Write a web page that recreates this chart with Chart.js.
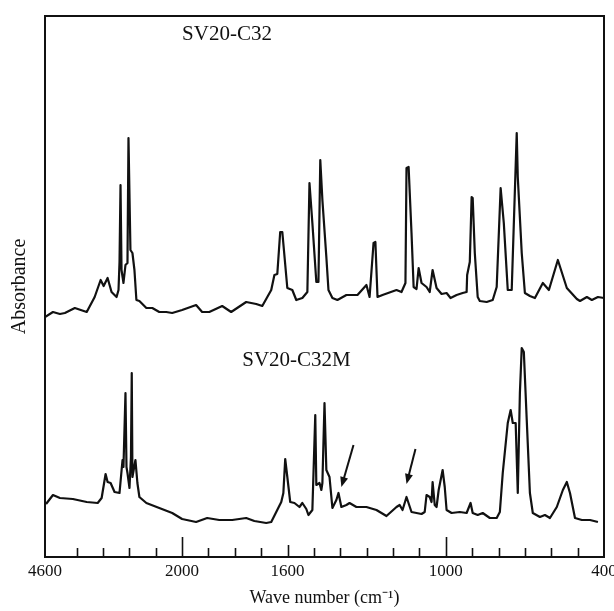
<!DOCTYPE html>
<html>
<head>
<meta charset="utf-8">
<script src="https://cdn.jsdelivr.net/npm/chart.js@4.4.0/dist/chart.umd.min.js"></script>
<style>
  html, body { margin: 0; padding: 0; background: #fff; }
</style>
</head>
<body>
<canvas id="chart" width="614" height="611"></canvas>
<script>
// wave numbers (cm-1) and absorbance (arbitrary units)
const upperWn = [4600, 4449, 4317, 4223, 4034, 3809, 3658, 3545, 3488, 3413, 3338, 3243, 3206, 3187, 3168, 3149, 3112, 3074, 3036, 3017,
  2980, 2942, 2904, 2867, 2810, 2678, 2565, 2433, 2301, 2188, 2000, 1947, 1924, 1897, 1848, 1814, 1757, 1719, 1696, 1662,
  1650, 1639, 1628, 1620, 1601, 1582, 1567, 1544, 1525, 1517, 1506, 1491, 1483, 1476, 1468, 1453, 1445, 1430, 1411, 1377,
  1335, 1301, 1289, 1274, 1267, 1259, 1240, 1187, 1168, 1153, 1149, 1141, 1130, 1122, 1111, 1103, 1092, 1073, 1061, 1050,
  1035, 1016, 997, 982, 959, 936, 921, 919, 909, 902, 898, 890, 879, 871, 845, 822, 807, 792, 780, 765,
  750, 731, 727, 712, 700, 681, 662, 632, 609, 575, 541, 503, 491, 465, 446, 423, 400];
const upperAbs = [240, 245, 243, 244, 249, 245, 260, 277, 271, 279, 265, 260, 267, 295, 372, 287, 274, 292, 294, 419,
  307, 304, 287, 257, 256, 249, 249, 245, 245, 244, 247, 252, 245, 245, 251, 245, 255, 253, 251, 267,
  282, 283, 325, 325, 269, 267, 257, 259, 265, 374, 334, 275, 275, 397, 357, 300, 267, 259, 257, 262,
  262, 272, 260, 314, 315, 260, 262, 267, 265, 274, 389, 390, 324, 270, 268, 289, 274, 270, 265, 287,
  269, 263, 264, 259, 262, 264, 265, 282, 295, 360, 359, 304, 260, 256, 255, 257, 270, 369, 334, 267,
  267, 424, 380, 304, 264, 261, 259, 274, 267, 297, 269, 258, 256, 260, 257, 260, 259];

const lowerWn = [4580, 4449, 4317, 4072, 3809, 3601, 3526, 3451, 3413, 3356, 3281, 3187, 3130, 3112, 3074, 3055, 3036, 2998, 2970, 2955,
  2942, 2885, 2848, 2810, 2678, 2433, 2188, 2000, 1947, 1905, 1859, 1810, 1757, 1726, 1681, 1662, 1643, 1624, 1616, 1609,
  1601, 1590, 1574, 1555, 1544, 1529, 1521, 1506, 1495, 1491, 1479, 1472, 1468, 1460, 1453, 1441, 1430, 1415, 1407, 1396,
  1377, 1365, 1339, 1301, 1263, 1225, 1187, 1175, 1164, 1149, 1130, 1092, 1080, 1073, 1061, 1054, 1050, 1042, 1035, 1027,
  1012, 1004, 997, 978, 947, 921, 906, 898, 879, 860, 833, 807, 795, 784, 765, 754, 746, 735, 727, 719,
  712, 704, 693, 681, 670, 643, 624, 605, 579, 556, 541, 529, 510, 484, 453, 423];
const lowerAbs = [53, 62, 59, 58, 55, 54, 59, 83, 75, 74, 65, 64, 97, 90, 164, 90, 84, 69, 100, 184,
  80, 97, 74, 60, 54, 49, 44, 38, 35, 39, 37, 37, 39, 36, 34, 35, 45, 55, 64, 98,
  80, 55, 54, 50, 54, 48, 42, 47, 142, 72, 74, 67, 74, 154, 87, 80, 49, 57, 64, 50,
  52, 54, 50, 50, 47, 41, 50, 52, 47, 60, 45, 43, 45, 62, 60, 55, 75, 52, 50, 67,
  87, 70, 47, 44, 45, 44, 54, 44, 42, 44, 39, 39, 45, 84, 134, 147, 134, 134, 64, 164,
  209, 205, 137, 64, 44, 40, 42, 39, 50, 67, 75, 64, 39, 37, 37, 35];

const tickLabels = [4600, 2000, 1600, 1000, 400];
const minorTicks = [4000, 3500, 3000, 2500, 1900, 1800, 1700, 1500, 1400, 1300, 1200, 1100, 900, 800, 700, 600, 500];
const majorTicks = [2000, 1000];
const midTicks = [1600];

const sampleNames = ['SV20-C32', 'SV20-C32M'];

const X_MIN = 400, X_MAX = 4600, BREAK = 2000, SQUEEZE = 5;
const SERIF = '"Liberation Serif", "Times New Roman", serif';
const INK = '#111';

// x axis with a scale change at 2000 cm-1 (range above it is compressed 5x)
class SplitScale extends Chart.LinearScale {
  static id = 'split';
  unit(v) {
    return v >= BREAK ? (X_MAX - v) / SQUEEZE : (X_MAX - BREAK) / SQUEEZE + (BREAK - v);
  }
  getPixelForValue(v) {
    const lo = this.unit(X_MAX), hi = this.unit(X_MIN);
    return this.getPixelForDecimal((this.unit(v) - lo) / (hi - lo));
  }
  getValueForPixel(p) {
    const lo = this.unit(X_MAX), hi = this.unit(X_MIN);
    const u = lo + this.getDecimalForPixel(p) * (hi - lo);
    const uBreak = (X_MAX - BREAK) / SQUEEZE;
    return u <= uBreak ? X_MAX - u * SQUEEZE : BREAK - (u - uBreak);
  }
}
Chart.register(SplitScale);

const toPoints = (xs, ys) => xs.map((x, i) => ({ x, y: ys[i] }));

const decor = {
  id: 'decor',
  afterDraw(chart) {
    const { ctx, chartArea: a, scales: { x, y } } = chart;
    ctx.save();
    ctx.strokeStyle = INK;
    ctx.fillStyle = INK;

    ctx.lineWidth = 2;
    ctx.strokeRect(a.left, a.top, a.right - a.left, a.bottom - a.top);

    // inward tick marks
    ctx.lineWidth = 1.6;
    const mark = (vals, len) => vals.forEach((v) => {
      const px = Math.round(x.getPixelForValue(v)) + 0.5;
      ctx.beginPath();
      ctx.moveTo(px, a.bottom);
      ctx.lineTo(px, a.bottom - len);
      ctx.stroke();
    });
    mark(minorTicks, 9);
    mark(midTicks, 12);
    mark(majorTicks, 20);

    // sample labels
    ctx.font = '21px ' + SERIF;
    ctx.textBaseline = 'alphabetic';
    ctx.fillText(sampleNames[0], x.getPixelForValue(2000), y.getPixelForValue(517));
    ctx.fillText(sampleNames[1], x.getPixelForValue(1772), y.getPixelForValue(191));

    // arrows
    const arrow = (x0, y0, x1, y1) => {
      const ax = x.getPixelForValue(x0), ay = y.getPixelForValue(y0);
      const bx = x.getPixelForValue(x1), by = y.getPixelForValue(y1);
      const ang = Math.atan2(by - ay, bx - ax);
      ctx.lineWidth = 2;
      ctx.beginPath();
      ctx.moveTo(ax, ay);
      ctx.lineTo(bx - 6 * Math.cos(ang), by - 6 * Math.sin(ang));
      ctx.stroke();
      ctx.beginPath();
      ctx.moveTo(bx, by);
      ctx.lineTo(bx - 10 * Math.cos(ang) + 4 * Math.sin(ang), by - 10 * Math.sin(ang) - 4 * Math.cos(ang));
      ctx.lineTo(bx - 10 * Math.cos(ang) - 4 * Math.sin(ang), by - 10 * Math.sin(ang) + 4 * Math.cos(ang));
      ctx.closePath();
      ctx.fill();
    };
    arrow(1350, 112, 1396, 70);
    arrow(1115, 108, 1149, 73);
    ctx.restore();
  }
};

new Chart(document.getElementById('chart'), {
  type: 'line',
  data: {
    datasets: [
      { label: sampleNames[0], data: toPoints(upperWn, upperAbs) },
      { label: sampleNames[1], data: toPoints(lowerWn, lowerAbs) }
    ]
  },
  options: {
    responsive: false,
    animation: false,
    events: [],
    devicePixelRatio: 1,
    layout: { padding: { top: 16, right: 10, left: 0, bottom: 0 } },
    elements: {
      line: { borderColor: INK, borderWidth: 2.2, tension: 0, fill: false, borderJoinStyle: 'round' },
      point: { radius: 0 }
    },
    plugins: { legend: { display: false }, tooltip: { enabled: false } },
    scales: {
      x: {
        type: 'split',
        min: X_MIN,
        max: X_MAX,
        grid: { display: false, drawTicks: false },
        border: { display: false },
        afterBuildTicks: (s) => { s.ticks = tickLabels.map((v) => ({ value: v })); },
        ticks: {
          autoSkip: false, maxRotation: 0, padding: 4, color: INK,
          font: { family: SERIF, size: 17 },
          callback: (v) => String(v)
        },
        title: {
          display: true, text: 'Wave number (cm\u207B\u00B9)', color: INK,
          font: { family: SERIF, size: 18 }, padding: { top: 0, bottom: 2 }
        },
        afterFit: (s) => { s.height = 54; s.paddingLeft = 0; s.paddingRight = 0; }
      },
      y: {
        min: 0,
        max: 541,
        ticks: { display: false },
        grid: { display: false, drawTicks: false },
        border: { display: false },
        title: {
          display: true, text: 'Absorbance', color: INK,
          font: { family: SERIF, size: 20 }, padding: { top: 8, bottom: 0 }
        },
        afterFit: (s) => { s.width = 45; s.paddingTop = 0; s.paddingBottom = 0; }
      }
    }
  },
  plugins: [decor]
});
</script>
</body>
</html>
